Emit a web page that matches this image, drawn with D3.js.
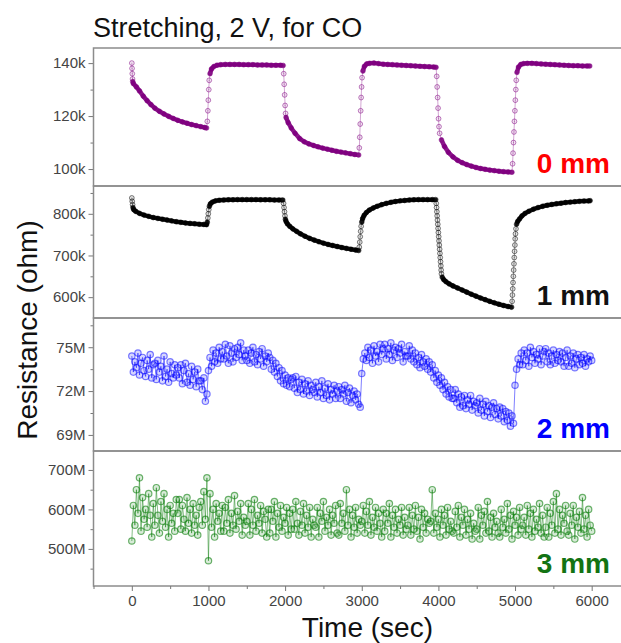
<!DOCTYPE html>
<html>
<head>
<meta charset="utf-8">
<style>
  body { margin: 0; background: #fff; }
  svg { display: block; font-family: Arial, "Liberation Sans", sans-serif; }
</style>
</head>
<body>
<svg id="chart" width="621" height="643"></svg>
<script src="https://cdn.jsdelivr.net/npm/d3@7"></script>
<script>
// ---- data ----
// 0 mm : [time (s), resistance (kohm)]
var r0mm = [[0,140],[3,138],[6,136],[9,134],[12,133],[20,132.3],[60,131],[100,129.5],[150,127.5],[200,125.8],
  [250,124.3],[300,123],[360,121.8],[420,120.8],[480,119.9],[540,119.1],[600,118.4],[660,117.8],[720,117.3],
  [780,116.8],[840,116.4],[900,116],[950,115.7],[975,115.5],[985,118],[992,122],[998,126],[1004,130],[1010,133.5],
  [1020,136],[1040,137.8],[1070,138.7],[1110,139.2],[1160,139.4],[1220,139.5],[1280,139.5],[1340,139.5],[1400,139.5],
  [1460,139.4],[1520,139.4],[1580,139.4],[1640,139.3],[1700,139.3],[1760,139.3],[1820,139.2],[1880,139.2],[1940,139.2],
  [1975,139.1],[1982,136],[1988,132],[1994,128],[2000,124],[2006,121],[2012,119.5],[2040,117.5],[2080,115.5],
  [2130,113.5],[2190,111.5],[2250,110.3],[2310,109.5],[2370,108.9],[2430,108.4],[2490,107.9],[2550,107.5],[2610,107.1],
  [2670,106.7],[2730,106.4],[2790,106.1],[2850,105.8],[2910,105.5],[2960,105.3],[2968,108],[2974,112],[2980,117],
  [2986,122],[2992,127],[2998,131],[3004,134.5],[3015,137],[3035,138.8],[3065,139.7],[3100,139.9],[3160,140],
  [3220,139.8],[3280,139.6],[3340,139.5],[3400,139.4],[3460,139.3],[3520,139.2],[3580,139.1],[3640,139],[3700,138.9],
  [3760,138.8],[3820,138.7],[3880,138.6],[3940,138.5],[3970,138.4],[3978,135],[3984,131],[3990,127],[3996,123],
  [4002,119],[4008,116],[4016,113.5],[4040,111],[4080,108.5],[4130,106.3],[4190,104.6],[4250,103.3],[4310,102.4],
  [4370,101.7],[4430,101.1],[4490,100.6],[4550,100.2],[4610,99.9],[4670,99.6],[4730,99.4],[4790,99.2],[4850,99],
  [4910,98.9],[4960,98.8],[4968,102],[4974,106],[4980,110],[4986,114],[4992,118],[4998,122],[5004,126],[5010,130],
  [5016,133.5],[5025,136.5],[5045,138.5],[5075,139.5],[5110,139.8],[5160,139.9],[5220,139.9],[5280,139.8],[5340,139.7],
  [5400,139.6],[5460,139.5],[5520,139.4],[5580,139.3],[5640,139.2],[5700,139.1],[5760,139],[5820,139],[5880,138.9],
  [5940,138.9],[5975,138.9]];

// 1 mm : [time (s), resistance (kohm)]
var r1mm = [[0,838],[5,830],[10,822],[15,815],[25,810],[50,806],[100,801],[160,797],[220,794],[280,791],[340,789],
  [400,787],[460,785],[520,783],[580,781],[640,779.5],[700,778],[760,777],[820,776],[880,775],[940,774.5],[975,774],
  [985,780],[992,790],[998,800],[1004,810],[1012,818],[1025,824],[1050,828],[1090,831],[1140,832.5],[1200,833],
  [1260,833.5],[1320,833.5],[1380,834],[1440,834],[1500,834],[1560,834],[1620,834],[1680,833.5],[1740,833.5],
  [1800,833.5],[1860,833],[1920,833],[1970,833],[1980,825],[1986,815],[1992,805],[1998,795],[2004,787],[2012,782],
  [2030,776],[2060,770],[2100,764],[2150,758],[2200,752],[2260,746],[2320,741],[2380,737],[2440,733],[2500,729.5],
  [2560,726.5],[2620,724],[2680,721.5],[2740,719],[2800,717],[2860,715],[2920,713],[2960,712],[2968,720],[2974,732],
  [2980,745],[2986,758],[2992,770],[3000,780],[3012,789],[3030,796],[3060,803],[3100,809],[3150,814],[3200,818],
  [3260,822],[3320,825],[3380,827.5],[3440,829.5],[3500,831],[3560,832],[3620,833],[3680,833.5],[3740,834],[3800,834],
  [3860,834],[3920,834],[3965,834],[3972,825],[3976,815],[3980,805],[3984,795],[3988,785],[3992,775],[3996,765],
  [4000,755],[4004,745],[4008,735],[4012,725],[4016,715],[4020,705],[4024,695],[4028,685],[4032,675],[4036,665],
  [4040,656],[4050,648],[4070,642],[4100,637],[4140,632],[4190,627],[4250,622],[4310,617],[4370,612],[4430,607],
  [4490,602.5],[4550,598],[4610,594],[4670,590],[4730,586.5],[4790,583],[4850,580],[4910,577.5],[4955,576],[4962,590],
  [4966,605],[4970,620],[4974,635],[4978,650],[4982,665],[4986,680],[4990,695],[4994,710],[4998,725],[5002,740],
  [5006,752],[5012,764],[5020,775],[5035,782],[5060,788],[5090,795],[5130,801],[5180,806],[5240,811],[5300,815],
  [5360,818],[5420,820.5],[5480,822.5],[5540,824],[5600,825.5],[5660,827],[5720,828],[5780,829],[5840,830],
  [5900,830.5],[5960,831],[5980,831.5]];

// 2 mm and 3 mm were logged every 20 s
var noisyStep = 20;

// 2 mm : resistance (Mohm), one row per 300 s
var r2mm = [
  74.4,73.3,74.0,73.6,74.6,73.1,73.9,74.3,73.4,73.0,74.1,73.5,74.5,72.9,73.8,
  73.9,72.8,74.1,73.3,73.7,72.7,74.4,73.0,73.5,72.6,74.0,73.2,72.9,73.8,73.1,
  73.6,72.9,73.8,72.5,73.4,73.9,72.6,73.2,72.4,73.7,72.8,73.3,72.3,73.5,72.7,
  72.7,72.1,72.9,71.3,71.8,73.4,74.3,73.7,74.8,74.0,74.6,73.9,75.0,74.2,74.7,
  74.2,75.2,74.4,73.9,75.1,74.6,74.0,74.9,74.3,75.0,74.5,75.3,74.1,74.8,74.4,
  74.1,74.8,73.9,74.6,75.0,74.0,74.5,73.8,74.7,74.2,74.9,73.7,74.4,74.0,74.6,
  74.3,73.5,74.1,73.3,73.9,73.0,73.6,72.7,73.4,72.5,73.1,72.4,72.9,72.3,72.8,
  72.9,72.2,73.0,71.9,72.6,72.1,72.8,71.8,72.5,72.0,72.7,71.7,72.4,72.1,71.9,
  72.6,71.6,72.3,71.9,72.7,71.5,72.2,71.7,72.5,71.4,72.1,71.8,72.4,71.5,72.0,
  72.3,71.5,72.1,71.8,72.4,71.3,71.9,72.2,71.2,71.7,72.0,71.4,71.8,71.1,70.9,
  73.2,74.2,74.6,74.1,75.0,74.3,74.8,73.9,75.1,74.4,74.7,74.0,75.2,74.5,74.9,
  75.2,74.2,74.9,74.5,75.3,74.1,74.8,75.0,74.3,74.9,74.6,75.2,74.0,74.7,74.4,
  74.4,75.1,74.2,74.8,74.0,74.6,73.8,74.3,73.6,74.5,74.0,73.7,74.2,73.5,74.0,
  73.3,73.8,72.9,73.4,72.6,73.1,72.4,72.9,72.1,72.6,71.8,72.3,71.6,72.1,71.5,
  71.5,72.1,71.2,71.8,70.9,71.6,71.0,71.7,70.8,71.4,71.1,71.7,70.7,71.3,71.0,
  71.2,70.5,71.5,70.7,71.1,70.3,71.3,70.6,71.0,70.2,70.9,71.2,70.4,70.8,70.1,
  70.9,70.3,70.8,69.9,70.6,70.0,70.5,69.6,70.3,69.8,72.4,73.5,74.2,73.8,74.6,
  73.8,74.8,74.1,74.6,73.7,75.0,74.3,74.7,73.9,74.5,74.2,74.9,73.8,74.4,74.7,
  74.9,74.0,74.6,73.8,74.4,74.8,73.9,74.5,74.1,74.7,74.0,74.6,73.7,74.3,74.8,
  73.7,74.4,73.9,74.6,73.6,74.2,74.5,73.8,74.3,73.9,74.5,73.7,74.2,74.0,74.4,
  74.1];

// 3 mm : resistance (Mohm), one row per 300 s
var r3mm = [
  520,610,560,650,590,680,545,630,575,600,555,640,585,530,615,
  560,655,585,540,620,570,640,555,600,530,610,565,590,545,625,
  590,625,550,610,575,545,630,565,600,540,615,560,585,535,605,
  620,560,645,575,680,470,640,555,600,530,615,570,590,545,610,
  545,605,565,625,540,590,560,635,550,595,570,615,535,580,560,
  570,615,535,600,560,625,545,585,565,610,540,595,575,530,600,
  540,600,570,620,530,590,555,610,545,580,565,605,535,590,550,
  600,550,620,565,535,595,560,615,540,585,555,605,530,575,560,
  555,605,530,590,570,620,545,580,560,600,535,585,565,610,540,
  535,615,565,590,545,650,560,600,530,585,555,605,540,575,560,
  570,610,540,595,560,620,535,580,555,605,545,590,565,530,600,
  545,590,565,615,530,585,555,600,540,575,560,605,535,580,550,
  560,605,535,585,550,610,545,580,525,600,555,590,540,575,565,
  570,650,540,590,555,575,530,600,560,585,535,605,550,570,545,
  540,595,555,610,530,580,560,600,535,575,550,590,525,565,545,
  550,605,525,585,560,595,540,620,545,580,530,590,555,570,540,
  530,600,555,575,540,615,550,585,525,595,560,580,535,605,550,
  560,580,535,610,550,590,530,600,545,575,555,615,540,585,530,
  555,605,530,590,560,620,540,640,550,600,535,585,565,610,545,
  535,590,560,610,525,580,555,595,540,630,550,585,530,600,560,
  545];

var panelNames = ["0 mm", "1 mm", "2 mm", "3 mm"];
var panelColors = ["#800080", "#000000", "#0000ff", "#0f800f"];
var labelColors = ["#ff0000", "#111111", "#0000ff", "#137313"];
var yDomains = [[93.6, 145.7], [550, 866.7], [67.9, 77.0], [406, 748]];
var yMajor = [[100, 120, 140], [600, 700, 800], [69, 72, 75], [500, 600, 700]];
var yMinor = [[110, 130], [650, 750, 850], [70.5, 73.5, 76.5], [450, 550, 650]];
var yUnits = ["k", "k", "M", "M"];
var xMajor = [0, 1000, 2000, 3000, 4000, 5000, 6000];
var xMinor = [-500, 500, 1500, 2500, 3500, 4500, 5500, 6500];

var series = [
  r0mm,
  r1mm,
  r2mm.map(function(v, i){ return [i * noisyStep, v]; }),
  r3mm.map(function(v, i){ return [i * noisyStep, v]; })
];

// ---- layout ----
var svg = d3.select("#chart");
var left = 93.5, right = 630;
var bounds = [[48, 186], [186, 318], [318, 451], [451, 586]];

var x = d3.scaleLinear().domain([-500, 6500]).range([left, right]);

function styleAxis(a) {
  a.select(".domain").remove();
  a.selectAll("line").attr("stroke", "#777");
  a.selectAll("text").style("font-size", "15px").attr("fill", "#444")
    .style("font-family", "Arial, 'Liberation Sans', sans-serif");
}

// title
svg.append("text")
  .attr("x", 93).attr("y", 37)
  .style("font-size", "27px").attr("fill", "#111")
  .text("Stretching, 2 V, for CO");

bounds.forEach(function(b, k) {
  var y = d3.scaleLinear().domain(yDomains[k]).range([b[1], b[0]]);
  var g = svg.append("g");
  var col = panelColors[k];
  var pts = series[k];

  g.append("clipPath").attr("id", "clip" + k)
    .append("rect").attr("x", left).attr("y", b[0]).attr("width", right - left).attr("height", b[1] - b[0]);

  // minor then major ticks on the left
  g.append("g").attr("transform", "translate(" + left + ",0)")
    .call(d3.axisLeft(y).tickValues(yMinor[k]).tickSize(3).tickFormat(""))
    .call(styleAxis);
  g.append("g").attr("transform", "translate(" + left + ",0)")
    .call(d3.axisLeft(y).tickValues(yMajor[k]).tickSize(5).tickPadding(3)
      .tickFormat(function(d){ return d + yUnits[k]; }))
    .call(styleAxis);

  var plot = g.append("g").attr("clip-path", "url(#clip" + k + ")");

  if (k < 2) {
    // slow parts look like a thick band, fast jumps show the single samples
    var steep = function(d) {
      return Math.abs(y(d[1][1]) - y(d[0][1])) > 3 * Math.abs(x(d[1][0]) - x(d[0][0])) + 1;
    };
    plot.selectAll("line.seg").data(d3.pairs(pts)).enter().append("line")
      .attr("class", "seg")
      .attr("x1", function(d){ return x(d[0][0]); })
      .attr("y1", function(d){ return y(d[0][1]); })
      .attr("x2", function(d){ return x(d[1][0]); })
      .attr("y2", function(d){ return y(d[1][1]); })
      .attr("stroke", col)
      .attr("stroke-linecap", "round")
      .attr("stroke-width", function(d){ return steep(d) ? 1 : 4.5; })
      .attr("stroke-opacity", function(d){ return steep(d) ? 0.35 : 0.9; });
    plot.selectAll("circle").data(pts).enter().append("circle")
      .attr("cx", function(d){ return x(d[0]); })
      .attr("cy", function(d){ return y(d[1]); })
      .attr("r", 2.4)
      .attr("fill", col).attr("fill-opacity", 0.1)
      .attr("stroke", col).attr("stroke-opacity", 0.5)
      .attr("stroke-width", 1);
  } else {
    plot.append("path").datum(pts)
      .attr("d", d3.line().x(function(d){ return x(d[0]); }).y(function(d){ return y(d[1]); }))
      .attr("fill", "none")
      .attr("stroke", col).attr("stroke-opacity", 0.5)
      .attr("stroke-width", 1);
    plot.selectAll("circle").data(pts).enter().append("circle")
      .attr("cx", function(d){ return x(d[0]); })
      .attr("cy", function(d){ return y(d[1]); })
      .attr("r", 3.2)
      .attr("fill", col).attr("fill-opacity", 0.16)
      .attr("stroke", col).attr("stroke-opacity", k === 3 ? 0.6 : 0.5)
      .attr("stroke-width", 1.2);
  }

  // frame
  g.append("rect")
    .attr("x", left).attr("y", b[0]).attr("width", right - left).attr("height", b[1] - b[0])
    .attr("fill", "none").attr("stroke", "#8c8c8c").attr("stroke-width", 1.5);

  // panel label
  g.append("text")
    .attr("x", 610).attr("y", b[1] - 13)
    .attr("text-anchor", "end")
    .style("font-size", "28px").style("font-weight", "bold")
    .attr("fill", labelColors[k])
    .text(panelNames[k]);

  // x axis on the bottom panel only
  if (k === 3) {
    g.append("g").attr("transform", "translate(0," + b[1] + ")")
      .call(d3.axisBottom(x).tickValues(xMinor).tickSize(3).tickFormat(""))
      .call(styleAxis);
    g.append("g").attr("transform", "translate(0," + b[1] + ")")
      .call(d3.axisBottom(x).tickValues(xMajor).tickSize(5).tickPadding(4).tickFormat(d3.format("d")))
      .call(styleAxis);
  }
});

// axis titles
svg.append("text")
  .attr("transform", "translate(37,330) rotate(-90)")
  .attr("text-anchor", "middle")
  .style("font-size", "28px").attr("fill", "#111")
  .text("Resistance (ohm)");

svg.append("text")
  .attr("x", 433).attr("y", 637)
  .attr("text-anchor", "end")
  .style("font-size", "28px").attr("fill", "#111")
  .text("Time (sec)");
</script>
</body>
</html>
